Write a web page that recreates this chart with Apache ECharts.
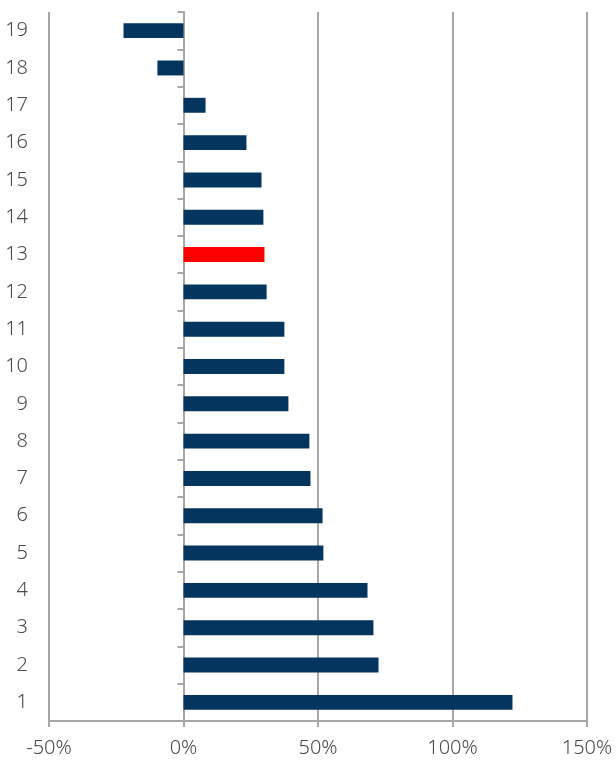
<!DOCTYPE html>
<html>
<head>
<meta charset="utf-8">
<script src="https://cdn.jsdelivr.net/npm/echarts@6/dist/echarts.min.js"></script>
<style>
  html, body { margin: 0; padding: 0; background: #fff; }
  #container { width: 616px; height: 760px; }
</style>
</head>
<body>
<div id="container"></div>
<script type="text/javascript">
var categories = ['1','2','3','4','5','6','7','8','9','10','11','12','13','14','15','16','17','18','19'];
var values = [122.3, 72.5, 70.6, 68.4, 52.0, 51.7, 47.2, 46.8, 39.0, 37.5, 37.5, 30.9, 30.1, 29.7, 29.0, 23.4, 8.2, -9.7, -22.3];
var highlight = '13';

var navy = '#04355E';
var red = '#FF0000';
var grey = '#A6A6A6';

var dom = document.getElementById('container');
var myChart = echarts.init(dom);

var option = {
    animation: false,
    grid: {
        left: 49,
        right: 29,
        top: 12,
        bottom: 39,
        containLabel: false
    },
    xAxis: {
        type: 'value',
        min: -50,
        max: 150,
        interval: 50,
        axisLine: { show: true, lineStyle: { color: grey, width: 2 } },
        axisTick: { show: true, length: 6, lineStyle: { color: grey, width: 2 } },
        splitLine: { show: true, lineStyle: { color: grey, width: 2 } },
        axisLabel: {
            formatter: '{value}%',
            color: '#4a4a4a',
            fontSize: 20,
            fontFamily: 'Noto Sans',
            fontWeight: 300,
            margin: 17
        }
    },
    yAxis: [
        {
            type: 'category',
            data: categories,
            axisLine: { show: false, onZero: false },
            axisTick: { show: false },
            axisLabel: {
                color: '#4a4a4a',
                fontSize: 20,
                fontFamily: 'Noto Sans',
                fontWeight: 300,
                margin: 21
            }
        },
        {
            type: 'category',
            data: categories,
            position: 'left',
            axisLine: { show: true, onZero: true, lineStyle: { color: grey, width: 2 } },
            axisTick: { show: true, length: 6, lineStyle: { color: grey, width: 2 } },
            axisLabel: { show: false }
        }
    ],
    series: [
        {
            type: 'bar',
            yAxisIndex: 0,
            barWidth: '40%',
            data: values.map(function (v, i) {
                return {
                    value: v,
                    itemStyle: { color: categories[i] === highlight ? red : navy }
                };
            })
        }
    ]
};
myChart.setOption(option, true);
</script>
</body>
</html>
